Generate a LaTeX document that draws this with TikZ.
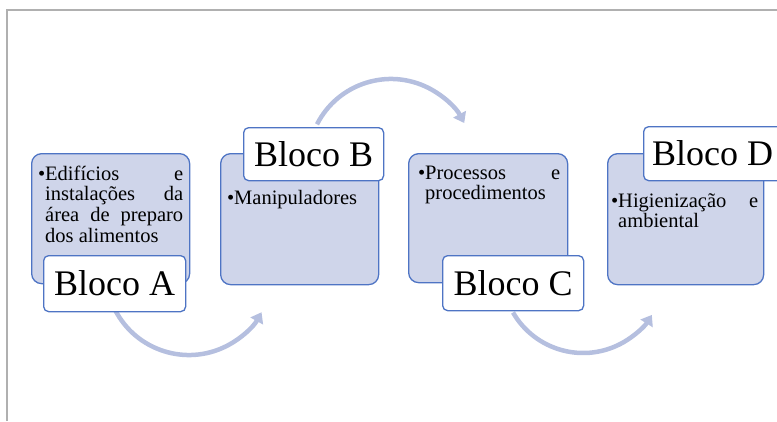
\documentclass[tikz,border=0pt]{standalone}
\usepackage{fontspec}
\setmainfont{Liberation Serif}
\usetikzlibrary{arrows.meta}
\definecolor{boxfill}{HTML}{CFD5EA}
\definecolor{boxline}{HTML}{4E74C4}
\definecolor{arrowc}{HTML}{B5BFDF}
\definecolor{framec}{HTML}{B0B0B0}
\tikzset{
  bluebox/.style={draw=boxline, fill=boxfill, line width=1.3pt, rounded corners=10pt, anchor=north west, inner sep=0pt},
  labelbox/.style={draw=boxline, fill=white, line width=1.3pt, rounded corners=5pt, anchor=north west, inner sep=0pt},
  titletext/.style={inner sep=0pt, font=\fontsize{36pt}{40pt}\selectfont},
  bodytext/.style={inner sep=0pt, anchor=base west, font=\fontsize{20.5pt}{20.7pt}\selectfont},
  flowarrow/.style={draw=arrowc, line width=4.5pt, -{Triangle[length=10pt,width=14pt]}},
}
\newcommand{\bulletline}[2]{\parbox[t]{#1}{\hbadness=10000\hangindent=7pt\hangafter=1\noindent\makebox[7pt][l]{•}#2}}
\begin{document}
\begin{tikzpicture}[x=1pt,y=1pt]
\path[use as bounding box, clip] (0,0) rectangle (777,-421);
% frame
\draw[framec, line width=1.5pt] (7,-421) -- (7,-10) -- (777,-10);
% arrows (behind boxes)
\coordinate (a1s) at (115,-309.7);
\coordinate (a2s) at (317,-124.3);
\coordinate (a3s) at (513,-312.5);
\draw[flowarrow] (a1s) arc[start angle=207, end angle=331, radius=83];
\draw[flowarrow] (a2s) arc[start angle=153, end angle=28, radius=83];
\draw[flowarrow] (a3s) arc[start angle=210, end angle=328, radius=81];
% blue boxes
\node[bluebox, minimum width=158pt, minimum height=130pt] (bA) at (31,-153) {};
\node[bluebox, minimum width=158pt, minimum height=131pt] (bB) at (220,-153) {};
\node[bluebox, minimum width=159pt, minimum height=129pt] (bC) at (408,-153) {};
\node[bluebox, minimum width=156pt, minimum height=131pt] (bD) at (607,-153) {};
% body texts
\node[bodytext] (tA) at (38,-180) {\bulletline{145pt}{Edifícios e\linebreak instalações da\linebreak área de preparo\linebreak dos alimentos}};
\node[bodytext] (tB) at (227,-204) {\bulletline{145pt}{Manipuladores}};
\node[bodytext] (tC) at (418,-179) {\bulletline{142pt}{Processos e\linebreak procedimentos}};
\node[bodytext] (tD) at (611,-207) {\bulletline{147pt}{Higienização e\linebreak ambiental}};
% label boxes
\node[labelbox, minimum width=142pt, minimum height=56pt] (lA) at (43,-255) {};
\node[labelbox, minimum width=140pt, minimum height=53pt] (lB) at (243,-127) {};
\node[labelbox, minimum width=141pt, minimum height=55pt] (lC) at (442,-255) {};
\node[labelbox, minimum width=142pt, minimum height=54pt] (lD) at (643,-126) {};
\node[titletext, anchor=base] (nA) at ([yshift=-12pt]lA.center) {Bloco A};
\node[titletext, anchor=base] (nB) at ([yshift=-12pt]lB.center) {Bloco B};
\node[titletext, anchor=base] (nC) at ([yshift=-12pt]lC.center) {Bloco C};
\node[titletext, anchor=base west] (nD) at ([xshift=9pt,yshift=-12pt]lD.west) {Bloco D};
\end{tikzpicture}
\end{document}
